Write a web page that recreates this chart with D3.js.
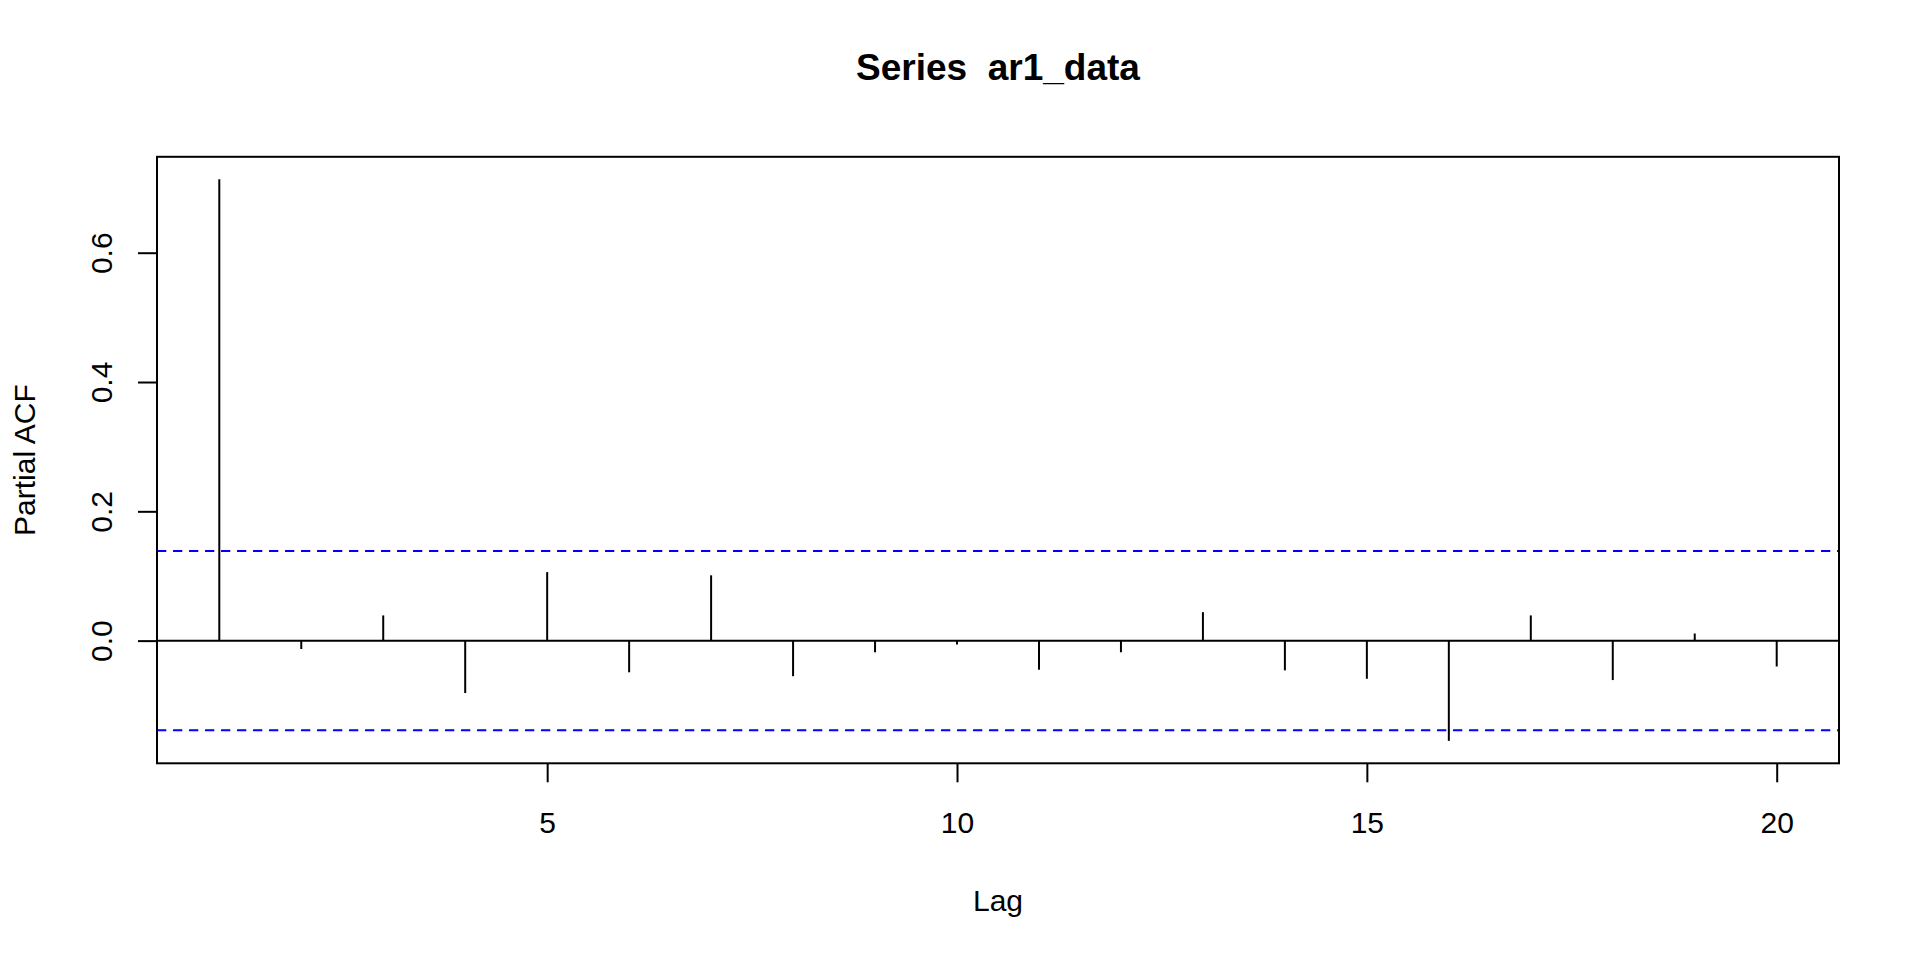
<!DOCTYPE html>
<html>
<head>
<meta charset="utf-8">
<script src="https://cdn.jsdelivr.net/npm/d3@7"></script>
<style>
  html, body { margin: 0; padding: 0; background: #ffffff; }
  svg { display: block; }
  text { font-family: "Liberation Sans", Arial, sans-serif; fill: #000; white-space: pre; }
</style>
</head>
<body>
<svg id="chart" width="1920" height="960"></svg>
<script>
// ---- data ----
const lags = [1,2,3,4,5,6,7,8,9,10,11,12,13,14,15,16,17,18,19,20];
const pacfValues = [0.7136,-0.013,0.039,-0.081,0.106,-0.049,0.101,-0.055,-0.018,-0.006,
                    -0.045,-0.018,0.044,-0.046,-0.059,-0.155,0.039,-0.061,0.011,-0.040];
const nObs = 200;
const xTickValues = [5,10,15,20];
const yTickValues = [0.0,0.2,0.4,0.6];
const yTickLabels = ["0.0","0.2","0.4","0.6"];
const titleText = "Series  ar1_data";
const xLabel = "Lag";
const yLabel = "Partial ACF";

// ---- layout ----
const box = {left: 157, right: 1839, top: 156.8, bottom: 763.3};
const svg = d3.select("#chart");

const clim = 1.959964 / Math.sqrt(nObs);

// R-like 4% axis extension
const xmin = d3.min(lags), xmax = d3.max(lags);
const xr = xmax - xmin;
const x = d3.scaleLinear()
  .domain([xmin - 0.04 * xr, xmax + 0.04 * xr])
  .range([box.left, box.right]);

const ymin = Math.min(-clim, d3.min(pacfValues));
const ymax = Math.max(clim, d3.max(pacfValues));
const yr = ymax - ymin;
const y = d3.scaleLinear()
  .domain([ymin - 0.04 * yr, ymax + 0.04 * yr])
  .range([box.bottom, box.top]);

const data = lags.map((l, i) => ({lag: l, v: pacfValues[i]}));

// confidence lines
const dash = "9.3,6.7";
[clim, -clim].forEach(c => {
  svg.append("line")
    .attr("x1", box.left).attr("x2", box.right)
    .attr("y1", y(c)).attr("y2", y(c))
    .attr("stroke", "#0000ff").attr("stroke-width", 2.2)
    .attr("stroke-dasharray", dash);
});

// zero line
svg.append("line")
  .attr("x1", box.left).attr("x2", box.right)
  .attr("y1", y(0)).attr("y2", y(0))
  .attr("stroke", "#000").attr("stroke-width", 2);

// stems
svg.append("g").selectAll("line").data(data).join("line")
  .attr("x1", d => x(d.lag)).attr("x2", d => x(d.lag))
  .attr("y1", y(0)).attr("y2", d => y(d.v))
  .attr("stroke", "#000").attr("stroke-width", 2);

// box
svg.append("rect")
  .attr("x", box.left).attr("y", box.top)
  .attr("width", box.right - box.left).attr("height", box.bottom - box.top)
  .attr("fill", "none").attr("stroke", "#000").attr("stroke-width", 2);

// x axis
const gx = svg.append("g")
  .attr("transform", `translate(0,${box.bottom})`)
  .call(d3.axisBottom(x).tickValues(xTickValues).tickSize(19).tickSizeOuter(0).tickFormat(d3.format("d")));
gx.select(".domain").remove();
gx.selectAll(".tick line").attr("stroke", "#000").attr("stroke-width", 2);
gx.selectAll(".tick text")
  .attr("y", 833 - box.bottom).attr("dy", null)
  .attr("font-size", 30).attr("fill", "#000")
  .style("font-family", '"Liberation Sans", Arial, sans-serif');

// y axis
const gy = svg.append("g")
  .attr("transform", `translate(${box.left},0)`)
  .call(d3.axisLeft(y).tickValues(yTickValues).tickSize(19).tickSizeOuter(0)
        .tickFormat((d, i) => yTickLabels[i]));
gy.select(".domain").remove();
gy.selectAll(".tick line").attr("stroke", "#000").attr("stroke-width", 2);
gy.selectAll(".tick text")
  .attr("x", null).attr("dy", null)
  .attr("text-anchor", "middle")
  .attr("transform", `translate(${111.7 - box.left},0) rotate(-90)`)
  .attr("font-size", 30).attr("fill", "#000")
  .style("font-family", '"Liberation Sans", Arial, sans-serif');

// title
svg.append("text")
  .attr("x", (box.left + box.right) / 2).attr("y", 80)
  .attr("text-anchor", "middle")
  .attr("font-size", 37).attr("font-weight", "bold")
  .attr("xml:space", "preserve")
  .style("white-space", "pre")
  .text(titleText);

// x label
svg.append("text")
  .attr("x", (box.left + box.right) / 2).attr("y", 911)
  .attr("text-anchor", "middle")
  .attr("font-size", 30)
  .text(xLabel);

// y label
svg.append("text")
  .attr("transform", `translate(35,${(box.top + box.bottom) / 2}) rotate(-90)`)
  .attr("text-anchor", "middle")
  .attr("font-size", 30)
  .text(yLabel);
</script>
</body>
</html>
